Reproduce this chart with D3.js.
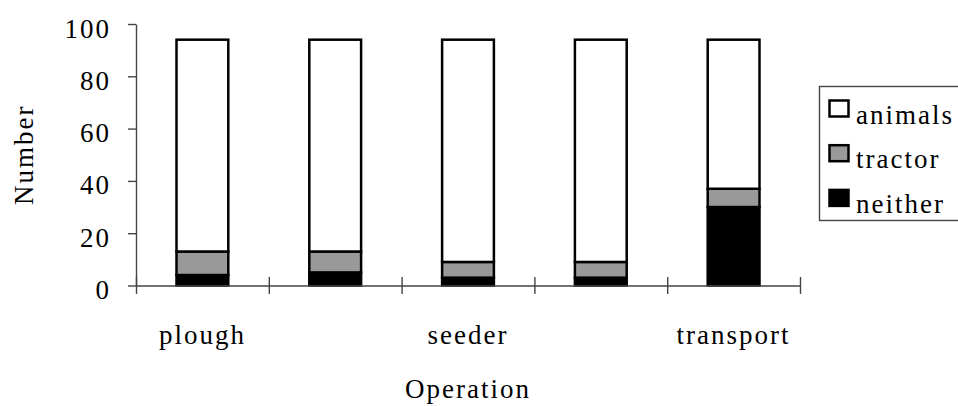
<!DOCTYPE html>
<html>
<head>
<meta charset="utf-8">
<script src="https://cdn.jsdelivr.net/npm/d3@7"></script>
<style>
    body { margin: 0; background: #fff; }
    svg { display: block; font-family: 'Liberation Serif', 'Times New Roman', serif; }
    text { letter-spacing: 2px; }
</style>
</head>
<body>
<div id="chart"></div>
<script>
// chart data
const categoryLabels = ['plough', '', 'seeder', '', 'transport'];
const seriesNames = ['neither', 'tractor', 'animals'];
const neither = [4, 5, 3, 3, 30];
const tractor = [9, 8, 6, 6, 7];
const animals = [81, 81, 85, 85, 57];
const yTicks = [0, 20, 40, 60, 80, 100];

const width = 958;
const height = 406;
const plot = { left: 136, right: 800, top: 24, bottom: 285.5 };
const fills = { animals: '#ffffff', tractor: '#999999', neither: '#000000' };
const axisColor = '#444';

const svg = d3.select('#chart').append('svg')
    .attr('width', width)
    .attr('height', height);

const x = d3.scaleBand()
    .domain(d3.range(categoryLabels.length))
    .range([plot.left, plot.right]);

const y = d3.scaleLinear()
    .domain([0, 100])
    .range([plot.bottom, plot.top]);

// stack the three series per category
const rows = categoryLabels.map((label, i) => ({
    idx: i, neither: neither[i], tractor: tractor[i], animals: animals[i],
}));
const stacked = d3.stack().keys(seriesNames)(rows);

const barW = x.bandwidth() * 0.39;

svg.append('g')
    .selectAll('g')
    .data(stacked)
    .join('g')
    .attr('fill', d => fills[d.key])
    .selectAll('rect')
    .data(d => d)
    .join('rect')
    .attr('x', d => x(d.data.idx) + (x.bandwidth() - barW) / 2)
    .attr('y', d => y(d[1]))
    .attr('width', barW)
    .attr('height', d => y(d[0]) - y(d[1]))
    .attr('stroke', '#000')
    .attr('stroke-width', 2.5);

// y axis
const yAxis = svg.append('g')
    .attr('transform', `translate(${plot.left},0)`)
    .call(d3.axisLeft(y).tickValues(yTicks).tickSize(8).tickSizeOuter(0).tickPadding(17));
yAxis.select('.domain').attr('stroke', axisColor).attr('stroke-width', 1.4);
yAxis.selectAll('.tick line').attr('stroke', axisColor).attr('stroke-width', 1.4);
yAxis.selectAll('.tick text')
    .attr('font-size', 27)
    .attr('font-family', 'Liberation Serif')
    .attr('fill', '#000')
    .attr('dy', 13);

// x axis: ticks at category boundaries, crossing the line
const xb = d3.scaleLinear().domain([0, categoryLabels.length]).range([plot.left, plot.right]);
const xAxis = svg.append('g')
    .attr('transform', `translate(0,${plot.bottom})`)
    .call(d3.axisBottom(xb).tickValues(d3.range(categoryLabels.length + 1)).tickSize(8.5).tickSizeOuter(0).tickFormat(''));
xAxis.select('.domain').attr('stroke', axisColor).attr('stroke-width', 1.4);
xAxis.selectAll('.tick line').attr('y1', -8.5).attr('stroke', axisColor).attr('stroke-width', 1.4);

svg.append('g')
    .selectAll('text')
    .data(categoryLabels)
    .join('text')
    .attr('x', (d, i) => x(i) + x.bandwidth() / 2)
    .attr('y', 344)
    .attr('text-anchor', 'middle')
    .attr('font-size', 27)
    .text(d => d);

// axis titles
svg.append('text')
    .attr('x', (plot.left + plot.right) / 2)
    .attr('y', 398)
    .attr('text-anchor', 'middle')
    .attr('font-size', 27)
    .text('Operation');

svg.append('text')
    .attr('transform', `translate(33,${(plot.top + plot.bottom) / 2}) rotate(-90)`)
    .attr('text-anchor', 'middle')
    .attr('font-size', 27)
    .text('Number');

// legend
const legend = svg.append('g');
legend.append('rect')
    .attr('x', 819.5).attr('y', 86.5)
    .attr('width', 150).attr('height', 134)
    .attr('fill', '#fff')
    .attr('stroke', axisColor)
    .attr('stroke-width', 1.4);

const legendItems = ['animals', 'tractor', 'neither'];
const item = legend.selectAll('g.item')
    .data(legendItems)
    .join('g')
    .attr('class', 'item')
    .attr('transform', (d, i) => `translate(0,${123.5 + i * 44.7})`);

item.append('rect')
    .attr('x', 829.5).attr('y', -23)
    .attr('width', 19).attr('height', 16)
    .attr('fill', d => fills[d])
    .attr('stroke', '#000')
    .attr('stroke-width', 2.5);

item.append('text')
    .attr('x', 856)
    .attr('font-size', 27)
    .text(d => d);
</script>
</body>
</html>
